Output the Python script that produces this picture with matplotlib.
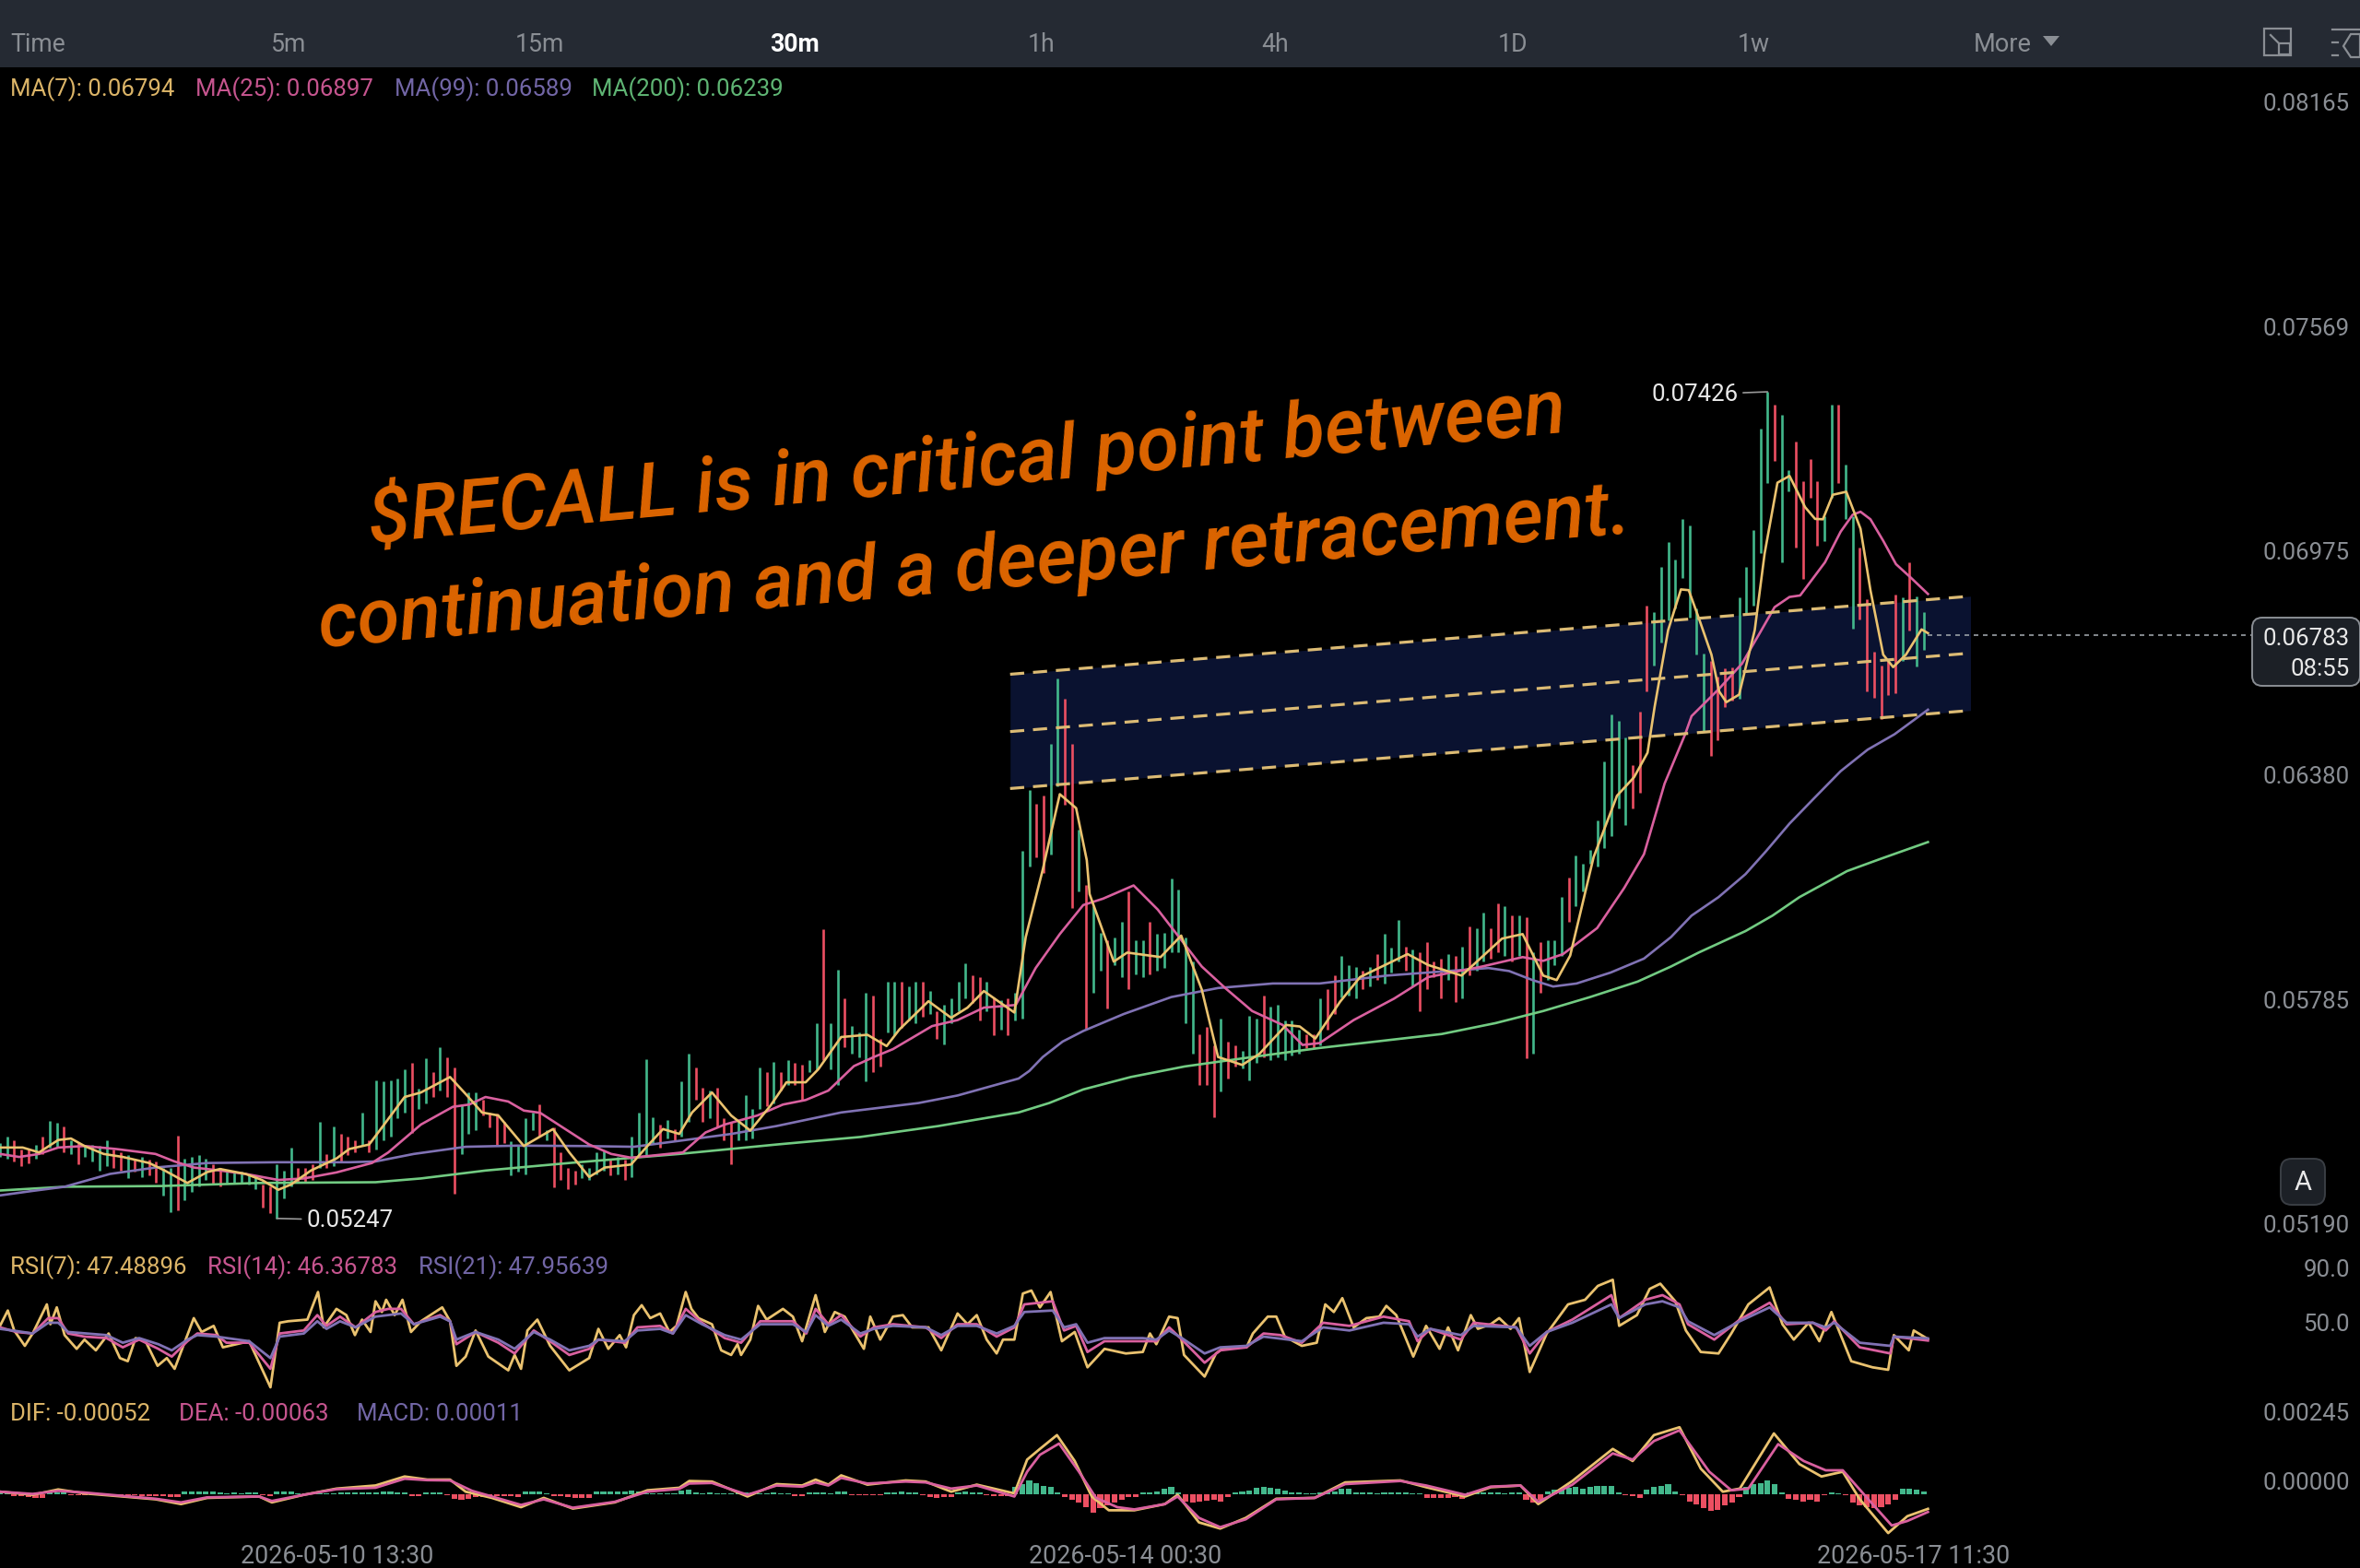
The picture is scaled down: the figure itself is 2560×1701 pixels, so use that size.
import numpy as np
import matplotlib
matplotlib.use("Agg")
from matplotlib import pyplot as plt
from matplotlib.patches import FancyBboxPatch, Rectangle, Polygon

plt.rcParams['font.family'] = ['Roboto', 'DejaVu Sans']

# prices are in units of 0.00001
highs = [5437,5453,5445,5421,5421,5433,5453,5496,5490,5482,5445,5437,5429,5433,5429,5445,5421,5412,5404,5396,
         5400,5392,5388,5372,5372,5457,5396,5400,5404,5396,5380,5372,5364,5360,5360,5355,5351,5327,5323,5380,
         5364,5425,5372,5372,5380,5494,5408,5482,5461,5453,5445,5518,5445,5604,5600,5602,5608,5633,5649,5580,
         5661,5624,5691,5665,5637,5539,5571,5571,5551,5518,5514,5494,5441,5429,5502,5518,5539,5470,5478,5412,
         5372,5364,5380,5372,5412,5417,5396,5400,5392,5453,5518,5659,5506,5486,5498,5474,5600,5675,5637,5584,
         5576,5584,5502,5490,5494,5563,5527,5637,5624,5653,5624,5657,5649,5645,5657,5755,6003,5755,5897,5820,
         5747,5730,5836,5828,5714,5865,5865,5865,5853,5865,5865,5840,5787,5804,5820,5865,5914,5881,5877,5865,
         5824,5816,5820,5836,6211,6374,6337,6358,6496,6669,6614,6496,6268,6121,6064,5995,5975,5983,6023,6105,
         5975,5975,6023,5991,5995,6138,6109,5983,5918,5726,5746,5697,5767,5706,5697,5681,5775,5767,5828,5799,
         5803,5763,5763,5738,5726,5726,5820,5844,5881,5934,5909,5905,5893,5905,5938,5991,5954,6028,5958,5950,
         5942,5971,5918,5926,5938,5934,5958,6011,6007,6048,6007,6072,6064,6040,6040,6036,5942,5971,5975,5975,
         6089,6142,6199,6178,6215,6292,6449,6573,6557,6512,6439,6581,6862,6846,6964,7030,6985,7093,7074,6854,
         6736,6716,6675,6695,6699,6883,6964,7062,7331,7429,7396,7368,7221,7298,7193,7250,7193,7099,7394,7394,
         7237,7099,7017,6879,6740,6704,6716,6891,6883,6978,6887,6846]
lows = [5400,5396,5388,5376,5384,5396,5408,5425,5425,5412,5408,5380,5400,5388,5364,5376,5372,5364,5343,5360,
        5347,5351,5331,5298,5254,5258,5286,5307,5323,5339,5327,5323,5331,5331,5331,5327,5315,5266,5250,5237,
        5290,5323,5331,5335,5339,5372,5372,5376,5388,5404,5412,5429,5412,5421,5445,5453,5502,5518,5465,5527,
        5543,5559,5576,5559,5302,5408,5461,5470,5510,5478,5429,5437,5351,5360,5355,5470,5453,5445,5319,5339,
        5315,5327,5343,5339,5355,5364,5351,5355,5339,5347,5404,5400,5437,5425,5449,5445,5453,5494,5551,5494,
        5502,5478,5445,5380,5445,5445,5449,5527,5535,5543,5576,5592,5592,5551,5624,5633,5657,5633,5592,5690,
        5673,5665,5600,5624,5641,5730,5722,5742,5763,5755,5771,5779,5714,5698,5755,5787,5820,5808,5763,5787,
        5722,5738,5722,5763,5767,6170,6195,6154,6203,6382,6333,6060,6105,5738,5836,5893,5795,5909,5877,5844,
        5885,5877,5885,5893,5901,5942,5942,5755,5673,5592,5592,5506,5575,5608,5640,5636,5604,5649,5665,5657,
        5665,5657,5669,5673,5689,5689,5697,5738,5779,5824,5828,5820,5844,5852,5869,5861,5889,5918,5893,5852,
        5787,5844,5877,5820,5869,5812,5820,5881,5893,5918,5926,5942,5934,5918,5934,5661,5673,5836,5869,5909,
        5934,6023,6064,6105,6178,6170,6219,6252,6325,6280,6325,6366,6634,6704,6765,6822,6854,6936,6830,6732,
        6528,6463,6504,6594,6610,6614,6838,6862,7001,7188,7246,6977,7164,7017,6932,7148,7021,7034,7148,7188,
        7091,6801,6826,6634,6618,6561,6626,6630,6716,6797,6701,6744]
bar_dirs = ("ggrrrgrggr" "grggggrrgr" "grrggrgggg" "rrgggggrrg" "ggrrrgrgrr" "rgrgggggrg" "grgrrgggrr"
            "rrggggrgrr" "rrggggrgrg" "gggrgrggrr" "grrrggggrg" "rgrrggrggr" "gggrrggrgg" "rgrggggrrg"
            "rgr" "gggrrggrr" "grggrggrgg" "rggggggrrr" "grrgggrggg" "ggrrgrrggg" "rgrgggrgrr" "rrgrgrggrr"
            "grgrgrggg" "rggggggg" "grrrgggggggg" "rrrrgggggrggrrrrggrgg" "rrrrrrgrggrgg")

ma7_i = [0,3.2,5.5,8.2,10,11.9,14.6,17.3,21,23.2,26.4,29.2,31,34.6,36.9,39.2,41,43.8,47.4,49.2,52,53.8,57,59.3,63.4,65.6,67.9,70.2,73.8,77.9,
         80.2,83,85.2,88.9,91.2,93.4,95.7,97.5,100.3,103,105.7,108.5,110.8,113.5,115.3,118.5,122.2,124.9,126.7,130.8,134,136.3,138.6,140.7,142.9,
         144.5,146.9,149.3,151.6,153.1,153.5,156.9,158.8,163.5,166.4,169.3,171.6,175,177.4,181.2,183.1,185.3,188.8,191.6,198.3,201.2,205.9,211.6,
         214.5,217.4,219.3,221.2,224.5,227.8,230.2,232.1,233.1,235,236.8,237.9,239.3,241.1,242.2,243.2,245,247.2,248.6,250.4,252.1,254.3,255.7,256.8,
         258.2,260.1,262.1,263.5,265.3,266.7,268.5,270.7,271.6]
ma7 = [5425,5425,5412,5445,5449,5429,5408,5400,5384,5364,5331,5360,5368,5355,5339,5313,5327,5364,5396,5421,5433,5478,5559,5571,5612,5567,5518,5510,5429,5474,
       5412,5347,5372,5380,5429,5474,5461,5518,5571,5510,5470,5535,5598,5598,5633,5718,5724,5694,5738,5813,5769,5796,5840,5812,5783,
       5983,6162,6362,6325,6187,6097,5918,5942,5930,5987,5844,5665,5644,5673,5750,5746,5714,5812,5877,5938,5909,5881,5979,
       5991,5881,5869,5934,6195,6358,6407,6472,6594,6797,6905,6903,6830,6732,6634,6606,6626,6797,7001,7188,7206,7123,7092,7091,
       7156,7164,7066,6903,6732,6699,6732,6799,6789]

ma25_i = [0,2.7,5.5,8.2,11.9,16.4,21.9,24.6,27.3,31,34.6,39.2,42.8,47.4,52.4,54.7,59.3,63.8,66.1,68.4,71.6,73.8,76.1,79.3,83,86.1,88.9,92.1,96.2,99.4,
          102.1,106.7,110.3,113.5,116.7,120.3,123.1,125.8,131.3,134.9,138.6,143.1,145.9,149.3,152.6,155.4,159.7,163.1,169.3,172.6,176.4,180.7,183.5,185.9,
          190.7,196.4,201.2,208.8,214.5,217.4,220.2,225,228.8,231.6,234.5,237.4,238.3,242.2,245.4,247.9,250,252.1,253.6,257.1,259.3,261,262.1,263.5,265.3,267.1,269.2,271.6]
ma25 = [5408,5400,5408,5425,5429,5421,5408,5388,5372,5364,5355,5339,5343,5359,5384,5412,5486,5533,5539,5559,5547,5523,5517,5478,5433,5408,5398,5404,5412,5465,
        5486,5510,5539,5551,5576,5641,5665,5686,5747,5763,5796,5803,5901,5991,6068,6085,6120,6056,5905,5848,5787,5750,5697,5702,
        5763,5820,5877,5905,5930,5920,5938,6007,6113,6203,6390,6521,6569,6642,6708,6789,6858,6885,6889,6977,7058,7103,7111,7091,7034,6972,6936,6893]

ma99_i = [0,4.6,9.1,15.5,21.9,29.2,39.2,49.2,52.9,58.3,65.6,72.9,82,89.3,96.6,103,109.4,118.5,129.4,134.9,143.5,145,146.9,149.7,152.6,158.3,165,171.6,179.3,185.9,195.4,209.7,
          212.6,215.9,218.8,222.1,226.9,231.6,235.4,238.3,242.1,245.9,248.8,252.1,255.5,259.3,263.1,266.9,271.6]
ma99 = [5298,5310,5321,5355,5372,5384,5386,5386,5388,5408,5427,5430,5429,5427,5445,5461,5482,5518,5543,5563,5608,5628,5665,5706,5734,5779,5824,5848,5860,5860,5881,5901,
        5893,5869,5852,5860,5889,5926,5983,6040,6089,6150,6211,6284,6350,6423,6480,6521,6586]

ma200_i = [0,9.1,22.8,36.5,52.9,59.3,68.4,80.2,95.7,109.4,121.2,132.2,143.5,147.8,152.6,159.3,166.9,176.4,185.9,203.1,210.7,217.4,224,230.7,235.4,239.3,245.9,249.7,253.5,257.4,260.2,265,271.6]
ma200 = [5311,5321,5323,5331,5333,5343,5364,5384,5408,5433,5453,5482,5518,5543,5579,5612,5640,5665,5689,5726,5755,5787,5824,5865,5905,5942,5999,6040,6089,6129,6158,6191,6235]

# channel drawn on the chart: start and end bar, price at each end
zone_i = [142.3, 277.6]
zone_top = [6680, 6887]
zone_mid = [6528, 6736]
zone_bot = [6377, 6584]

rsi7_i = [0,1.1,2,3.5,4.6,6.6,7.1,8,9.1,10.8,11.9,13.5,15.3,16.9,18,19.1,20.5,22.2,23.5,24.6,27.3,28.4,30.1,31.4,35.1,38.1,39.4,40.6,43.3,44.8,
          45.6,47.4,48.8,50,51,52.2,52.9,53.8,54.4,55.6,56.7,57.9,59.3,62.3,63.4,64.3,65.6,67,68.8,71.6,72.5,73.4,74.3,75.7,77.5,80.2,83,84.3,85.7,87.3,
          88.2,89.3,90.4,91.6,93,94.3,95.3,96.6,97.4,98.4,100.3,101.6,103,103.9,104.4,105.7,106.8,108,110.3,111.7,113,114.9,116.2,117.6,119,121.7,122.6,124,125.8,127.2,
          128.5,130.8,132.6,134.9,136.3,137.6,139,140.4,141.3,142.9,144.1,145.3,146.5,148,149.6,151.4,153.2,155.6,158.6,161,162,162.9,164.7,165.9,166.8,169.7,171.3,172.5,175.6,176.5,
          178.6,179.8,181,183.4,185.5,186.7,187.9,189.1,190.7,192.5,194.3,195.3,196.7,199.1,200.9,202.8,204,205.4,207.2,208.2,210,211.2,212.8,214,215.5,217.9,220.9,223.3,225.1,227.2,
          228.1,230.6,232.4,233.9,236,237.5,239.6,242.1,243.9,246.3,249.3,251.1,252.7,254.8,256.3,258,260.8,263.8,266,266.8,268.9,269.6,271.6]
rsi7 = [57.2,68.5,53.8,42.5,51.6,73,58.4,70.8,50.4,40.3,47.1,39.2,51.6,33.5,31.2,48.2,45.9,27.8,33.5,25.6,62.9,52.7,57.2,41.4,45.9,12,59.5,60.6,61.8,82.1,
        56.1,69.7,65.1,50.4,61.8,52.7,75.3,67.4,76.4,65.1,76.4,52.7,60.6,70.8,60.6,27.8,34.6,53.8,34.6,24.5,35.8,25.6,53.8,61.8,42.5,24.5,33.5,55,40.3,50.4,
        41.4,65.1,72.4,62.9,66.3,52.7,57.2,82.1,69.7,62.9,58.4,39.2,35.8,43.7,35.8,47.1,71.9,61.8,69.7,64,45.9,79.8,52.7,67.4,64,40.3,64,47.1,64,65.1,
        56.1,56.1,39.2,66.3,58.4,65.1,47.1,36.9,47.1,47.1,81,83.2,70.8,82.1,45.9,52.7,26.7,40.3,36.9,38,51.6,43.7,64,62.9,35.8,19.9,36.9,41.4,41.4,51.6,
        64,64,49.3,42.5,44.8,73,67.4,77.6,56.1,62.9,64,71.9,65.1,34.6,57.2,40.3,56.1,39.2,65.1,55,58.4,62.9,55,62.9,23.3,51.6,73,76.4,86.6,91.1,
        57.2,65.1,84.4,88.2,75.3,53.8,38,36.9,51.6,73,85.5,58.4,47.1,59.5,45.9,67.4,31.2,26.7,24.9,50.4,39.2,53.8,47.5]

rsi14_i = [0,2.3,4.6,6.8,8.2,9.6,11.9,15,17.3,19.6,22.3,24.2,26.4,27.8,30.5,31.9,35.1,38.1,39.4,42.8,44.7,46,47.9,50.1,52.9,54.7,56.5,58.3,62,63.4,
           64.3,67,70.2,72.5,75.2,77.5,80.2,83,84.3,88,89.8,93,94.8,96.6,98.9,102.1,104.4,107.1,111.7,113.6,114.9,116.7,118.5,121.2,123.1,125.8,130.4,132.6,134.9,137.6,140.4,
           142.9,144.3,148.3,149.9,151.6,153.2,155.6,161,162.9,164.7,166.5,169.7,171.9,175.6,178,180.4,183.4,186.4,190.1,194.9,198.5,199.7,201.5,205.8,207.6,213.6,215.5,217.9,221.5,
           227,228.1,231.8,234.2,236.6,237.8,241.5,245.1,249.3,251.7,255.4,257.2,258.4,262,266.3,266.8,271.6]
rsi14 = [56.1,52.7,51.6,62.9,62.9,51.6,49.3,48.2,41.4,47.1,40.3,34.6,45.9,51.6,50.4,44.8,44.8,25.6,51.6,53.8,65.1,57.2,64,56.1,67.4,69.7,69.7,58.4,65.1,60.6,
         43.7,52.7,44.8,36.9,53.8,45.9,35.8,40.3,47.1,44.8,56.1,57.2,51.6,69.7,59.5,48.2,44.8,60.6,60.6,51.6,69.7,58.4,65.1,49.3,56.1,58.4,56.1,48.2,58.4,58.4,49.3,
         56.1,73,75.3,53.8,57.2,38,45.9,45.9,45.9,56.1,47.1,30.1,39.2,41.4,51.6,50.4,44.8,59.5,57.2,64,60.6,45.9,55,47.1,59.5,56.1,36.9,52.7,61.8,
         79.8,62.9,76.4,79.8,73,58.4,47.1,61.8,74.2,58.4,59.5,53.8,60.6,41.4,36.9,49.3,46.4]

rsi21_i = [0,2.3,4.6,6.8,8.2,9.6,15,17.3,19.6,22.3,24.2,26.4,27.8,30.5,35.1,38.1,39.4,42.8,44.7,46,47.9,50.1,52.9,56.5,58.3,62,63.4,64.3,67,70.2,
           72.5,75.2,77.5,80.2,83,84.3,88,89.8,93,94.8,96.6,98.9,102.1,104.4,107.1,111.7,113.6,114.9,116.7,118.5,121.2,123.1,125.8,130.4,132.6,134.9,137.6,140.4,
           142.9,144.3,148.3,149.9,151.6,153.2,155.6,161,162.9,164.7,166.5,169.7,171.9,175.6,178,183.4,186.4,190.1,194.9,198.5,199.7,201.5,205.8,207.6,213.6,215.5,217.9,221.5,
           227,228.1,231.8,234.2,236.6,237.8,241.5,245.1,249.3,251.7,255.4,257.2,258.4,262,266.3,266.8,271.6]
rsi21 = [55,53.4,51.6,59.5,59.5,52.7,50.4,44.8,48.2,43.7,39.2,47.1,50.4,49.3,45.9,33.5,49.3,51.6,60.6,55,60.6,56.1,64,66.3,58.4,64,60.6,47.1,52.7,47.1,
         40.3,52.7,47.1,39.2,42.5,47.1,45.9,53.8,55,51.6,65.1,58.4,50.4,47.1,58.4,58.4,52.7,65.1,57.2,61.8,51.6,55,57.2,56.1,50.4,57.2,57.2,51.6,
         57.2,67.4,68.5,56.1,58.4,44.8,48.2,48.2,47.1,53.8,48.2,36.9,41.4,42.5,49.3,45.9,56.1,53.8,59.5,58.4,49.3,55,50.4,57.2,56.1,42.5,52.7,59.5,
         73,62.9,73,75.3,70.8,60.6,50.4,60.6,70.8,59.5,59.5,56.1,59.5,44.8,42.5,49.3,48]

dif_i = [0,4.6,8.2,11.9,18.2,21.9,25.5,29.2,36.5,38.3,42.8,47.4,52.9,57,60.2,63.4,65.6,69.3,73.4,76.6,80.7,86.6,91.2,95.7,97.1,100.3,105.3,109.4,113,114.9,116.7,118.5,122.2,127.6,130.4,134,137.6,
         142.9,144.7,146.5,148.9,151.4,153.8,156.2,159.8,164.1,165.9,168.9,171.9,175.5,179.8,185.2,189.5,197.3,200.9,206.4,210,214.2,216.7,221.5,227.2,230,233,236.6,239.6,242.7,245.1,249.9,253.5,256.6,259.6,262,266,268.7,271.6]
dif = [9,-2,17,3,-10,-18,-35,-13,-8,-29,-2,20,31,63,52,52,9,-13,-46,-13,-51,-29,14,23,47,45,-8,36,31,52,34,67,34,49,45,9,34,
       3,123,161,210,118,-8,-57,-57,-35,-2,-100,-122,-84,-16,-13,42,49,25,-8,25,31,-35,47,161,118,210,238,91,9,20,216,107,63,80,-18,-138,-78,-52]
dea_i = [0,4.6,8.2,11.9,18.2,21.9,25.5,29.2,36.5,38.3,42.8,47.4,52.9,57,60.2,63.4,66.5,69.3,73.4,76.6,80.7,86.6,91.2,95.7,97.1,100.3,105.3,109.4,113,114.9,116.7,118.5,122.2,127.6,130.4,134,137.6,
         142.9,144.7,146.5,149.2,152,154.4,157.4,159.8,164.1,165.9,168.9,171.9,175.5,179.8,185.2,189.5,197.3,200.9,206.4,210,214.2,216.7,221.5,227.2,230,233,236.6,240.8,243.9,246.3,250.5,254.1,257.2,259.6,263.2,266.5,268.7,271.6]
dea = [9,1,12,6,-8,-16,-29,-11,-8,-24,-2,18,23,55,50,49,12,-8,-38,-18,-48,-27,9,19,38,40,-2,31,27,42,31,58,38,45,42,20,31,
       -8,80,140,180,80,-13,-46,-54,-35,-8,-84,-117,-89,-18,-13,36,47,31,-2,27,31,-27,34,145,123,189,227,80,14,20,178,118,85,85,-18,-111,-95,-63]

macd_hist = [5,5,-8,-8,-10,-12,-12,8,8,6,-4,-4,-3,-3,-4,-5,-4,-4,-5,-5,-6,-7,-7,-8,-9,-10,10,10,10,9,9,5,4,6,2,6,5,-5,-7,10,11,10,
             4,3,3,3,4,3,8,8,6,6,6,8,10,10,8,8,-8,-8,6,6,6,-3,-18,-20,-15,-10,-9,-8,-8,-7,-8,-9,10,10,11,3,-8,-8,-10,-13,-13,-13,
             10,10,10,10,10,12,11,3,3,4,4,3,12,15,5,4,5,4,3,2,6,7,7,4,4,5,4,3,-6,-8,8,8,6,2,10,11,-3,-4,-4,-4,-3,8,8,9,8,7,-2,-10,-12,-11,-10,
             8,9,8,8,-4,-6,-7,-6,25,35,50,40,30,25,5,-10,-20,-30,-45,-65,-50,-40,-30,-20,-10,-10,5,8,10,20,25,8,-25,-28,-25,-22,-20,-25,-10,
             8,10,14,22,25,24,20,12,6,5,4,3,5,8,10,18,20,6,6,5,4,5,6,6,5,4,3,-12,-14,-12,-12,-10,-15,8,5,6,5,6,3,5,5,-20,-30,-20,10,15,18,22,25,
             18,25,28,30,28,5,-5,-8,-12,15,25,30,35,10,-5,-25,-35,-48,-58,-55,-40,-30,-10,25,35,40,50,35,5,-15,-20,-25,-20,-25,-5,5,3,-5,
             -30,-40,-45,-50,-45,-35,-20,18,20,15,11]

price_ticks = [8165, 7569, 6975, 6380, 5785, 5190]
rsi_ticks = [90, 50]
macd_ticks = [245, 0]
time_ticks = [47.5, 158.5, 269.5]
time_labels = ['2026-05-10 13:30', '2026-05-14 00:30', '2026-05-17 11:30']
last_price = 6783
intervals = ['5m', '15m', '30m', '1h', '4h', '1D', '1w']
interval_x = [313, 585, 862, 1130, 1383, 1641, 1902]

YELLOW = '#eac26f'
PINK = '#d9609f'
PURPLE = '#8072b4'
GREEN = '#72cb82'
UP = '#43b88c'
DOWN = '#ec4f62'
GREY = '#8a8e94'
W, H = 2560, 1701
px = 72 / 200  # one pixel in points


def panel(top, bottom):
    ax = fig.add_axes([0, 1 - bottom / H, 1, (bottom - top) / H])
    ax.set_facecolor('black')
    ax.set_xlim(0, W / 7.7)
    ax.set_xticks([])
    ax.set_yticks([])
    for s in ax.spines.values():
        s.set_visible(False)
    return ax


def level_label(ax, val, txt, up=11):
    ax.annotate(txt, xy=(1, val), xycoords=('axes fraction', 'data'), xytext=(-11 * px, up * px),
                textcoords='offset points', ha='right', va='center', fontsize=9.3, color=GREY)


fig = plt.figure(figsize=(12.8, 8.505), dpi=200, facecolor='black')

# main price panel
ax = panel(72, 1350)
ax.set_ylim(5168, 8292)
ax.fill_between(zone_i, zone_bot, zone_top, color='#0a1230', lw=0, zorder=1)
for z in (zone_top, zone_mid, zone_bot):
    ax.plot(zone_i, z, color='#dcbb74', lw=1.15, dashes=(4.8, 3), zorder=4)
bar_x = np.arange(len(highs))
colors = [UP if d == 'g' else DOWN for d in bar_dirs]
ax.vlines(bar_x, lows, highs, colors=colors, lw=0.95, zorder=2)
ax.plot(ma200_i, ma200, color=GREEN, lw=0.95, zorder=3)
ax.plot(ma99_i, ma99, color=PURPLE, lw=0.95, zorder=3)
ax.plot(ma25_i, ma25, color=PINK, lw=0.95, zorder=3)
ax.plot(ma7_i, ma7, color=YELLOW, lw=0.95, zorder=3)
for p in price_ticks:
    level_label(ax, p, '0.%05d' % p)

hi = int(np.argmax(highs))
lo = int(np.argmin(lows))
ax.annotate('0.07426', xy=(hi, highs[hi]), xytext=(-32 * px, -3 * px), textcoords='offset points', ha='right',
            va='center', fontsize=9.3, color='#e8e8e8',
            arrowprops=dict(arrowstyle='-', color='#999999', lw=0.6, shrinkA=0, shrinkB=0))
ax.annotate('0.05247', xy=(lo, lows[lo]), xytext=(32 * px, -2 * px), textcoords='offset points', ha='left',
            va='center', fontsize=9.3, color='#e8e8e8',
            arrowprops=dict(arrowstyle='-', color='#999999', lw=0.6, shrinkA=0, shrinkB=0))
ax.plot([bar_x[-1] + 0.5, 317.4], [last_price, last_price], color='#9aa0a6', lw=0.6, dashes=(3, 3), zorder=4)

# RSI panel
ax_rsi = panel(1355, 1510)
ax_rsi.set_ylim(8.6, 113.7)
ax_rsi.plot(rsi7_i, rsi7, color=YELLOW, lw=1.0)
ax_rsi.plot(rsi14_i, rsi14, color=PINK, lw=1.0)
ax_rsi.plot(rsi21_i, rsi21, color=PURPLE, lw=1.0)
for r in rsi_ticks:
    level_label(ax_rsi, r, '%.1f' % r, up=12)

# MACD panel
ax_macd = panel(1515, 1668)
ax_macd.set_ylim(-154, 347)
hist_x = np.arange(len(macd_hist))
hist_col = [UP if v > 0 else DOWN for v in macd_hist]
ax_macd.bar(hist_x, macd_hist, width=0.8, color=hist_col, lw=0)
ax_macd.plot(dif_i, dif, color=YELLOW, lw=1.0)
ax_macd.plot(dea_i, dea, color=PINK, lw=1.0)
for m in macd_ticks:
    level_label(ax_macd, m, '%.5f' % (m / 1e5), up=12)
ax_macd.set_xticks(time_ticks)
ax_macd.set_xticklabels(time_labels, fontsize=9.7, color=GREY)
ax_macd.tick_params(axis='x', length=0, pad=2.5)

# screen furniture in pixel coordinates
ui = fig.add_axes([0, 0, 1, 1], facecolor='none')
ui.set_xlim(0, W)
ui.set_ylim(H, 0)
ui.axis('off')
ui.add_patch(Rectangle((0, 0), W, 73, color='#252a33', lw=0))
ui.text(11, 48, 'Time', fontsize=9.6, color=GREY, va='center')
for lab, x in zip(intervals, interval_x):
    if lab == '30m':
        ui.text(x, 48, lab, fontsize=9.6, color='white', weight='bold', ha='center', va='center')
    else:
        ui.text(x, 48, lab, fontsize=9.6, color=GREY, ha='center', va='center')
ui.text(2141, 48, 'More', fontsize=9.8, color=GREY, va='center')
ui.add_patch(Polygon([[2216, 39], [2234, 39], [2225, 50]], color=GREY, lw=0))
ui.add_patch(Rectangle((2456, 31), 29, 29, fill=False, ec=GREY, lw=0.8))
ui.add_patch(Rectangle((2472, 47), 12, 12, fill=False, ec=GREY, lw=0.8))
ui.plot([2463, 2472], [38, 47], color=GREY, lw=0.8)
ui.plot([2530, 2560], [32, 32], color=GREY, lw=0.8)
ui.plot([2530, 2536], [46, 46], color=GREY, lw=0.8)
ui.plot([2530, 2536], [60, 60], color=GREY, lw=0.8)
ui.add_patch(Polygon([[2550, 37], [2560, 37], [2560, 62], [2550, 62], [2542, 50]], fill=False, ec=GREY, lw=0.8))

for y, parts in [(97, [(11, 'MA(7): 0.06794', '#dcb568'), (212, 'MA(25): 0.06897', '#c6558f'),
                       (428, 'MA(99): 0.06589', '#7266a6'), (642, 'MA(200): 0.06239', '#5fb574')]),
                 (1375, [(11, 'RSI(7): 47.48896', '#dcb568'), (225, 'RSI(14): 46.36783', '#c6558f'),
                         (454, 'RSI(21): 47.95639', '#7266a6')]),
                 (1534, [(11, 'DIF: -0.00052', '#dcb568'), (194, 'DEA: -0.00063', '#c6558f'),
                         (387, 'MACD: 0.00011', '#7266a6')])]:
    for x, s, c in parts:
        ui.text(x, y, s, fontsize=9.3, color=c, va='center')

ui.add_patch(FancyBboxPatch((2443, 670), 117, 74, boxstyle='round,pad=0,rounding_size=11',
                            fc='#1c2026', ec='#8a8e94', lw=0.7))
ui.text(2549, 693, '0.06783', fontsize=9.3, color='#e8e8e8', ha='right', va='center')
ui.text(2549, 726, '08:55', fontsize=9.3, color='#e8e8e8', ha='right', va='center')
ui.add_patch(FancyBboxPatch((2474, 1257), 48, 50, boxstyle='round,pad=0,rounding_size=12',
                            fc='#1c2026', ec='#3a3e44', lw=0.7))
ui.text(2498, 1283, 'A', fontsize=10.5, color='#e8e8e8', ha='center', va='center')

ui.text(1048, 503, '$RECALL is in critical point between', fontsize=30, color='#dd6500', style='italic',
        weight='medium', rotation=5.3, rotation_mode='anchor', ha='center', va='center')
ui.text(1057, 617, 'continuation and a deeper retracement.', fontsize=30, color='#dd6500', style='italic',
        weight='medium', rotation=5.0, rotation_mode='anchor', ha='center', va='center')

fig.savefig('out.png', dpi=200, facecolor='black')
